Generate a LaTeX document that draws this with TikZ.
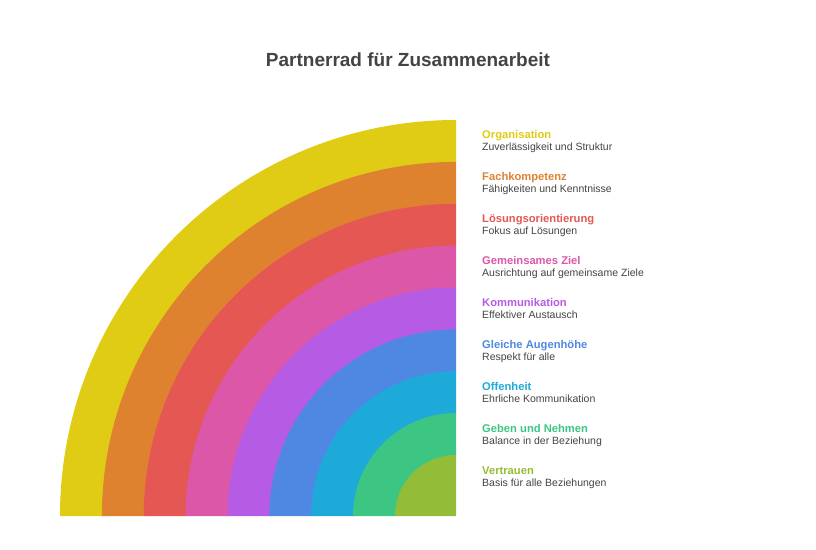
\documentclass[tikz,border=0pt]{standalone}
\usepackage{fontspec}
\setmainfont{Liberation Sans}
\definecolor{cOrg}{HTML}{E0CC14}
\definecolor{cFach}{HTML}{DF8230}
\definecolor{cLoes}{HTML}{E55753}
\definecolor{cZiel}{HTML}{DC57A8}
\definecolor{cKomm}{HTML}{B65CE4}
\definecolor{cAug}{HTML}{4F88E3}
\definecolor{cOff}{HTML}{1EAAD8}
\definecolor{cGeb}{HTML}{3DC683}
\definecolor{cVer}{HTML}{93BD38}
\definecolor{txt}{HTML}{444444}
\tikzset{
  ttl/.style={anchor=base west, inner sep=0pt, font=\fontsize{11.2}{13}\selectfont\bfseries},
  sub/.style={anchor=base west, inner sep=0pt, font=\fontsize{10.5}{12}\selectfont, text=txt},
}
\begin{document}
\begin{tikzpicture}[x=1pt,y=1pt]
\useasboundingbox (0,0) rectangle (816,549);
\fill[white] (0,0) rectangle (816,549);
\node[inner sep=0pt, font=\fontsize{19}{22}\selectfont\bfseries, text=txt] (title) at (408,489) {Partnerrad für Zusammenarbeit};
\coordinate (c) at (456,33);
\foreach \r/\ri/\col in {396/352.6/cOrg,354.1/310.7/cFach,312.2/268.9/cLoes,270.4/227/cZiel,228.5/185.1/cKomm,186.6/143.3/cAug,144.8/101.4/cOff,102.9/59.5/cGeb}{
  \fill[\col] ([xshift=-\r]c) arc[start angle=180,end angle=90,radius=\r]
     -- ([yshift=\ri]c) arc[start angle=90,end angle=180,radius=\ri] -- cycle;
}
\fill[cVer] (c) -- ([xshift=-61]c) arc[start angle=180,end angle=90,radius=61] -- cycle;
\foreach \n/\t/\s/\col [count=\i from 0] in {
  org/Organisation/Zuverlässigkeit und Struktur/cOrg,
  fach/Fachkompetenz/Fähigkeiten und Kenntnisse/cFach,
  loes/Lösungsorientierung/Fokus auf Lösungen/cLoes,
  ziel/Gemeinsames Ziel/Ausrichtung auf gemeinsame Ziele/cZiel,
  komm/Kommunikation/Effektiver Austausch/cKomm,
  aug/Gleiche Augenhöhe/Respekt für alle/cAug,
  off/Offenheit/Ehrliche Kommunikation/cOff,
  geb/Geben und Nehmen/Balance in der Beziehung/cGeb,
  ver/Vertrauen/Basis für alle Beziehungen/cVer}{
  \node[ttl, text=\col] (t\n) at (482,{549-138.5-42*\i}) {\t};
  \node[sub] (s\n) at (482,{549-150.8-42*\i}) {\s};
}
\end{tikzpicture}
\end{document}
